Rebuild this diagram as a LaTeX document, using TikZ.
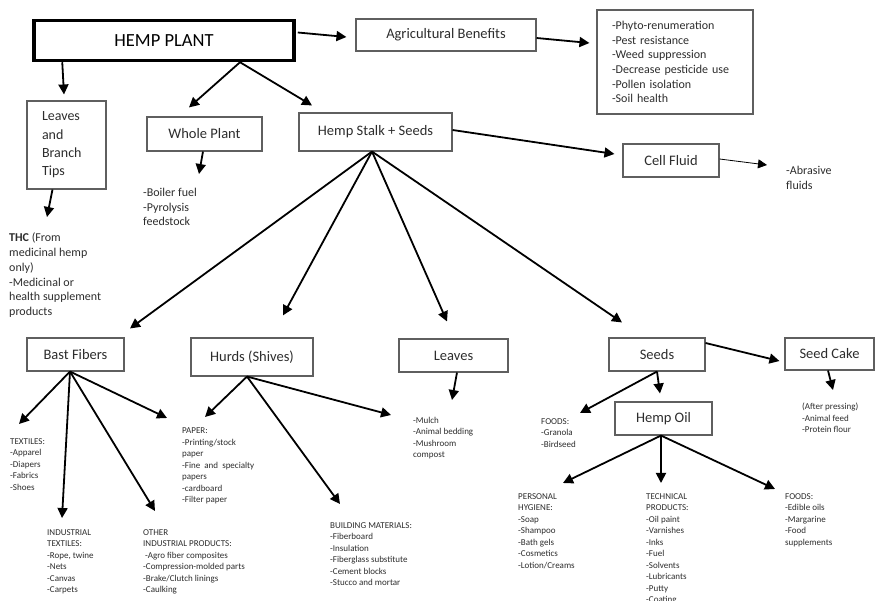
\documentclass[tikz,border=0pt]{standalone}
\usepackage{fontspec}
\setmainfont{Carlito}
\usepackage{xcolor}
\usepackage{tikz}
\usetikzlibrary{arrows.meta, calc}
\definecolor{boxgray}{RGB}{95, 95, 95}
\definecolor{notegray}{RGB}{45, 45, 45}

\tikzset{
    rootbox/.style={draw=black, line width=3.5pt, inner sep=0pt, minimum width=260pt, minimum height=40pt,
                    font=\fontsize{18.5}{22}\selectfont},
    catbox/.style={draw=boxgray, line width=1.1pt, inner sep=0pt, text=notegray, font=\fontsize{14.5}{17}\selectfont},
    flow/.style={draw=black, line width=1.8pt, -{Triangle[length=10pt, width=10pt]}},
    thinflow/.style={draw=black, line width=0.8pt, -{Triangle[length=9pt, width=9pt]}},
    notes/.style={anchor=north west, inner sep=0pt, align=left, text=notegray, font=\fontsize{12}{14.7}\selectfont},
    smallnotes/.style={anchor=north west, inner sep=0pt, align=left, text=notegray, font=\fontsize{9}{11.5}\selectfont}
}

\begin{document}
\begin{tikzpicture}[x=1pt, y=-1pt]
    \path[use as bounding box, fill=white] (0,0) rectangle (876,601);

    \node[rootbox] (plant) at (164,40.5) {HEMP PLANT};
    \node[catbox, minimum width=180pt, minimum height=32pt] (agri) at (446,35) {Agricultural Benefits};
    \node[catbox, minimum width=156pt, minimum height=104pt, text width=126pt, align=left,
          font=\fontsize{12}{14.7}\selectfont] (bene) at (675,62) {
        -Phyto-renumeration\\-Pest resistance\\-Weed suppression\\-Decrease pesticide use\\-Pollen isolation\\-Soil health
    };
    \node[catbox, minimum width=79pt, minimum height=88pt, text width=49pt, align=left,
          font=\fontsize{14}{18.3}\selectfont] (lbt) at (66.5,145) {Leaves\\and\\Branch\\Tips};
    \node[catbox, minimum width=115pt, minimum height=34pt] (whole) at (204.5,134) {Whole Plant};
    \node[catbox, minimum width=153pt, minimum height=38pt] (stalk) at (375.5,132) {Hemp Stalk + Seeds};
    \node[catbox, minimum width=96pt, minimum height=33pt] (cell) at (671,160.5) {Cell Fluid};

    \node[catbox, minimum width=97pt, minimum height=33pt] (bast) at (75.5,354.5) {Bast Fibers};
    \node[catbox, minimum width=122pt, minimum height=38pt] (hurds) at (252,357) {Hurds (Shives)};
    \node[catbox, minimum width=109pt, minimum height=33pt] (leaves) at (453.5,355.5) {Leaves};
    \node[catbox, minimum width=96pt, minimum height=33pt] (seeds) at (657,354.5) {Seeds};
    \node[catbox, minimum width=89pt, minimum height=32pt] (cake) at (829.5,354) {Seed Cake};
    \node[catbox, minimum width=97pt, minimum height=33pt] (oil) at (663.5,418.5) {Hemp Oil};

    \node[notes] (thc) at (9,233) {\textbf{THC} (From\\medicinal hemp\\only)\\-Medicinal or\\health supplement\\products};
    \node[notes] (wholetxt) at (143,188) {-Boiler fuel\\-Pyrolysis\\feedstock};
    \node[notes] (abr) at (786,166) {-Abrasive\\fluids};

    \node[smallnotes] (textiles) at (10,438) {TEXTILES:\\-Apparel\\-Diapers\\-Fabrics\\-Shoes};
    \node[smallnotes] (indtex) at (47,529) {INDUSTRIAL\\TEXTILES:\\-Rope, twine\\-Nets\\-Canvas\\-Carpets};
    \node[smallnotes] (other) at (143,529) {OTHER\\INDUSTRIAL PRODUCTS:\\\hspace*{2pt}-Agro fiber composites\\-Compression-molded parts\\-Brake/Clutch linings\\-Caulking};
    \node[smallnotes] (paper) at (182,428) {PAPER:\\-Printing/stock\\paper\\-Fine\ \ and\ \ specialty\\papers\\-cardboard\\-Filter paper};
    \node[smallnotes] (building) at (330,522) {BUILDING MATERIALS:\\-Fiberboard\\-Insulation\\-Fiberglass substitute\\-Cement blocks\\-Stucco and mortar};
    \node[smallnotes] (mulch) at (413,417) {-Mulch\\-Animal bedding\\-Mushroom\\compost};
    \node[smallnotes] (foods1) at (541,418) {FOODS:\\-Granola\\-Birdseed};
    \node[smallnotes] (caketxt) at (802,403) {(After pressing)\\-Animal feed\\-Protein flour};
    \node[smallnotes] (hygiene) at (518,493) {PERSONAL\\HYGIENE:\\-Soap\\-Shampoo\\-Bath gels\\-Cosmetics\\-Lotion/Creams};
    \node[smallnotes] (technical) at (646,493) {TECHNICAL\\PRODUCTS:\\-Oil paint\\-Varnishes\\-Inks\\-Fuel\\-Solvents\\-Lubricants\\-Putty\\-Coating};
    \node[smallnotes] (foods2) at (785,493) {FOODS:\\-Edible oils\\-Margarine\\-Food\\supplements};

    \draw[flow] ($(plant.east)+(2,-8)$) -- ($(agri.west)+(-9,2)$);
    \draw[flow] ($(agri.east)+(0,3)$) -- ($(bene.west)+(-7,-19)$);
    \draw[flow] ($(plant.south west)+(30,0)$) -- ($(lbt.north)+(-2.5,-6)$);
    \draw[flow] ($(lbt.south)+(-14,0)$) -- ($(thc.north west)+(38,-16)$);
    \draw[flow] ($(plant.south)+(76,0)$) -- ($(whole.north)+(-15.5,-9)$);
    \draw[flow] ($(plant.south)+(76,0)$) -- ($(stalk.north)+(-63.5,-7)$);
    \draw[flow] ($(whole.south)+(-1.5,0)$) -- ($(wholetxt.north west)+(56,-14)$);
    \draw[flow] ($(stalk.east)+(0,-2)$) -- ($(cell.west)+(-8,-6.5)$);
    \draw[thinflow] ($(cell.east)+(0,-1.5)$) -- ($(abr.north west)+(-19,-1)$);

    \coordinate (hub) at ($(stalk.south)+(-3.5,0)$);
    \draw[flow] (hub) -- ($(bast.north)+(54.5,-9)$);
    \draw[flow] (hub) -- ($(hurds.north)+(31,-22)$);
    \draw[flow] (hub) -- ($(leaves.north)+(-6.5,-17)$);
    \draw[flow] (hub) -- ($(seeds.north)+(-35,-15)$);

    \coordinate (basthub) at ($(bast.south)+(-5.5,0)$);
    \draw[flow] (basthub) -- ($(textiles.north west)+(9,-14)$);
    \draw[flow] (basthub) -- ($(indtex.north west)+(15,-11)$);
    \draw[flow] (basthub) -- ($(other.north west)+(12,-18)$);
    \draw[flow] (basthub) -- ($(paper.north west)+(-15,-10)$);

    \coordinate (hurdshub) at ($(hurds.south)+(-5,0)$);
    \draw[flow] (hurdshub) -- ($(paper.north west)+(23,-11)$);
    \draw[flow] (hurdshub) -- ($(building.north west)+(10,-18)$);
    \draw[flow] (hurdshub) -- ($(mulch.north west)+(-22,-2)$);

    \draw[flow] ($(leaves.south)+(3.5,0)$) -- ($(mulch.north west)+(39,-17)$);
    \draw[flow] (seeds.south) -- ($(foods1.north west)+(39,-5)$);
    \draw[flow] (seeds.south) -- ($(oil.north)+(-3.5,-8)$);
    \draw[flow] ($(seeds.east)+(0,-11.5)$) -- ($(cake.west)+(-5,7)$);
    \draw[flow] ($(cake.south)+(-1.5,0)$) -- ($(caketxt.north west)+(31,-13)$);

    \coordinate (oilhub) at ($(oil.south)+(-2.5,0)$);
    \draw[flow] (oilhub) -- ($(hygiene.north west)+(45,-10)$);
    \draw[flow] (oilhub) -- ($(technical.north west)+(15,-10)$);
    \draw[flow] (oilhub) -- ($(foods2.north west)+(-10,-4)$);
\end{tikzpicture}
\end{document}
